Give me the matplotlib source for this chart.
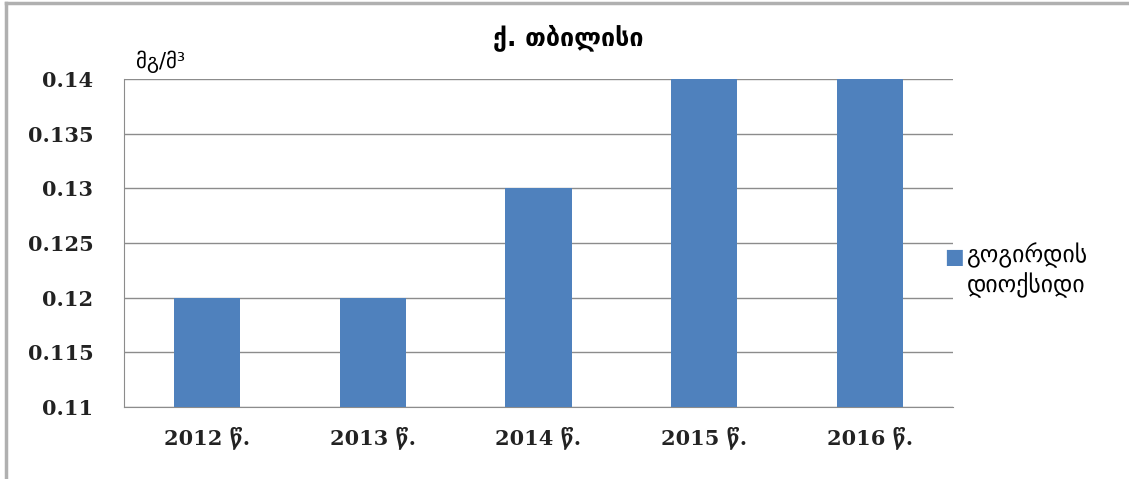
import numpy as np
import matplotlib.pyplot as plt
from matplotlib.lines import Line2D

# data
years = ['2012 წ.', '2013 წ.', '2014 წ.', '2015 წ.', '2016 წ.']
values = [0.12, 0.12, 0.13, 0.14, 0.14]
yticks = [0.11, 0.115, 0.12, 0.125, 0.13, 0.135, 0.14]
ytick_labels = ['0.11', '0.115', '0.12', '0.125', '0.13', '0.135', '0.14']

fonts = ['DejaVu Serif', 'DejaVu Sans']
plt.rcParams['font.family'] = fonts
bar_color = '#4F81BD'
grid_color = '#8c8c8c'

fig = plt.figure(figsize=(11.29, 4.79), dpi=100)
ax = fig.add_axes([124/1129, 1 - 407/479, 829/1129, 328/479])

x = np.arange(len(years))
ax.bar(x, values, width=0.4, color=bar_color, zorder=3)

ax.set_xlim(-0.5, len(years) - 0.5)
ax.set_ylim(0.11, 0.14)
ax.set_yticks(yticks)
ax.set_yticklabels(ytick_labels, fontsize=15, fontweight='bold', color='#222222')
ax.set_xticks(x)
ax.set_xticklabels(years, fontsize=15, fontweight='bold', color='#222222')
ax.tick_params(axis='both', length=0)
ax.tick_params(axis='y', pad=22)
ax.tick_params(axis='x', pad=14)

ax.yaxis.grid(True, color=grid_color, linewidth=1, zorder=0)
for side in ['top', 'right']:
    ax.spines[side].set_visible(False)
ax.spines['left'].set_color(grid_color)
ax.spines['bottom'].set_color(grid_color)

# title and unit
fig.text(568/1129, 1 - 38/479, 'ქ. თბილისი', ha='center', va='center',
         fontsize=18, fontweight='bold', family=['DejaVu Sans'])
fig.text(136/1129, 1 - 62/479, 'მგ/მ³', ha='left', va='center',
         fontsize=15, family=['DejaVu Sans'])

# legend
fig.text(944/1129, 1 - 257/479, '■', ha='left', va='center', fontsize=15, color=bar_color,
         family=['DejaVu Sans'])
fig.text(967/1129, 1 - 270/479, 'გოგირდის\nდიოქსიდი', ha='left', va='center',
         fontsize=17, linespacing=1.2, family=['DejaVu Sans'])

# outer chart border (top and left)
fig.add_artist(Line2D([6/1129, 6/1129], [0, 1 - 3/479], color='#b0b0b0', linewidth=2.5,
                      transform=fig.transFigure))
fig.add_artist(Line2D([6/1129, 1], [1 - 3/479, 1 - 3/479], color='#b0b0b0', linewidth=2.5,
                      transform=fig.transFigure))

fig.savefig('out.png', dpi=100)
